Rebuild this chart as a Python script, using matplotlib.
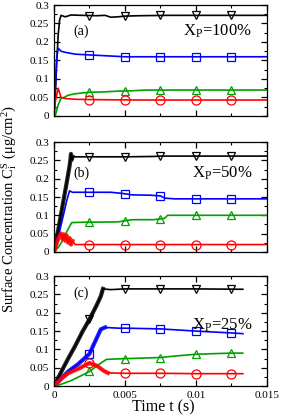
import matplotlib
matplotlib.use('Agg')
import matplotlib.pyplot as plt
import numpy as np
from matplotlib.ticker import MultipleLocator

plt.rcParams['font.family'] = ['Liberation Serif', 'DejaVu Serif']
plt.rcParams['mathtext.fontset'] = 'custom'
plt.rcParams['mathtext.rm'] = 'Liberation Serif'
plt.rcParams['mathtext.it'] = 'Liberation Serif'

# marker times (s)
mark_t = [0.0025, 0.005, 0.0075, 0.01, 0.0125]

# ---- panel (a): X_P = 100%
a_black_t = [0, 0.0001, 0.0002, 0.0003, 0.0004, 0.0005, 0.0008, 0.0012, 0.002, 0.003, 0.0036, 0.004, 0.0045, 0.005, 0.006, 0.008, 0.015]
a_black_y = [0, 0.06, 0.15, 0.22, 0.26, 0.272, 0.268, 0.273, 0.272, 0.271, 0.272, 0.267, 0.268, 0.27, 0.271, 0.272, 0.272]
a_blue_t = [0, 0.0001, 0.0002, 0.0003, 0.0005, 0.0008, 0.0015, 0.0025, 0.004, 0.005, 0.015]
a_blue_y = [0, 0.08, 0.16, 0.183, 0.175, 0.172, 0.167, 0.165, 0.162, 0.16, 0.16]
a_green_t = [0, 0.0001, 0.0003, 0.0005, 0.0007, 0.001, 0.0015, 0.0025, 0.0035, 0.0045, 0.0055, 0.0065, 0.015]
a_green_y = [0, 0.002, 0.03, 0.048, 0.05, 0.056, 0.06, 0.064, 0.065, 0.067, 0.068, 0.07, 0.07]
a_red_t = [0, 0.0001, 0.0003, 0.0005, 0.0008, 0.0015, 0.003, 0.006, 0.015]
a_red_y = [0, 0.04, 0.075, 0.05, 0.047, 0.045, 0.044, 0.043, 0.043]

# ---- panel (b): X_P = 50%
b_black_t = [0, 0.0003, 0.0006, 0.0009, 0.0011, 0.00115, 0.0012, 0.00125, 0.0013, 0.003, 0.005, 0.007, 0.0075, 0.015]
b_black_y = [0, 0.06, 0.125, 0.19, 0.235, 0.25, 0.268, 0.252, 0.26, 0.26, 0.26, 0.261, 0.262, 0.262]
b_blue_t = [0, 0.0003, 0.0006, 0.0009, 0.0011, 0.0013, 0.004, 0.0048, 0.0055, 0.0068, 0.0075, 0.0078, 0.0085, 0.015]
b_blue_y = [0, 0.04, 0.09, 0.14, 0.167, 0.163, 0.163, 0.16, 0.156, 0.155, 0.153, 0.147, 0.145, 0.145]
b_green_t = [0, 0.0003, 0.0006, 0.0009, 0.00125, 0.002, 0.0045, 0.005, 0.0055, 0.007, 0.0075, 0.0078, 0.008, 0.015]
b_green_y = [0, 0.012, 0.03, 0.055, 0.08, 0.081, 0.082, 0.085, 0.088, 0.088, 0.09, 0.092, 0.1, 0.1]
b_red_t = [0, 0.0002, 0.0004, 0.0005, 0.0006, 0.0007, 0.0008, 0.0009, 0.001, 0.0011, 0.0012, 0.0013, 0.0015, 0.003, 0.015]
b_red_y = [0, 0.025, 0.045, 0.05, 0.035, 0.048, 0.03, 0.045, 0.025, 0.038, 0.02, 0.03, 0.02, 0.02, 0.02]

# ---- panel (c): X_P = 25%
c_black_t = [0, 0.0005, 0.001, 0.0015, 0.002, 0.0025, 0.003, 0.0033, 0.00345, 0.004, 0.005, 0.0075, 0.01, 0.0133]
c_black_y = [0, 0.038, 0.075, 0.11, 0.148, 0.182, 0.22, 0.245, 0.265, 0.263, 0.265, 0.265, 0.265, 0.264]
c_blue_t = [0, 0.0005, 0.001, 0.0017, 0.0025, 0.003, 0.0033, 0.0036, 0.0045, 0.005, 0.0075, 0.01, 0.0125, 0.0133]
c_blue_y = [0, 0.02, 0.04, 0.06, 0.088, 0.13, 0.155, 0.16, 0.158, 0.158, 0.156, 0.15, 0.145, 0.143]
c_green_t = [0, 0.0005, 0.0012, 0.002, 0.0025, 0.0032, 0.0037, 0.005, 0.0075, 0.0085, 0.01, 0.0125, 0.0133]
c_green_y = [0, 0.005, 0.015, 0.03, 0.04, 0.06, 0.073, 0.075, 0.078, 0.082, 0.087, 0.09, 0.09]
c_red_t = [0, 0.0005, 0.001, 0.0017, 0.0025, 0.003, 0.0035, 0.0038, 0.005, 0.0075, 0.01, 0.0133]
c_red_y = [0, 0.02, 0.035, 0.047, 0.063, 0.056, 0.042, 0.036, 0.035, 0.035, 0.034, 0.034]

panels = [
    ('(a)', '100%', [(a_black_t, a_black_y), (a_blue_t, a_blue_y), (a_green_t, a_green_y), (a_red_t, a_red_y)]),
    ('(b)', '50%', [(b_black_t, b_black_y), (b_blue_t, b_blue_y), (b_green_t, b_green_y), (b_red_t, b_red_y)]),
    ('(c)', '25%', [(c_black_t, c_black_y), (c_blue_t, c_blue_y), (c_green_t, c_green_y), (c_red_t, c_red_y)]),
]
# end time of the noisy (thick) part of each curve, per panel
noisy_end = [[0, 0, 0, 0],
             [0.0013, 0, 0, 0.0013],
             [0.0035, 0.0036, 0, 0.0038]]
colors = ['black', '#0000ff', '#00a000', '#ff0000']
markers = ['v', 's', '^', 'o']
msizes = [6, 5.5, 6, 6.5]

# axes boxes [left, bottom, width, height] in figure fraction
boxes = [[0.192, 0.722, 0.758, 0.266],
         [0.192, 0.396, 0.758, 0.263],
         [0.192, 0.074, 0.758, 0.264]]
tag_y = [0.76, 0.72, 0.845]
xp_y = [0.76, 0.72, 0.555]

fig = plt.figure(figsize=(2.81, 4.17), dpi=100)
for i, (tag, xp, series) in enumerate(panels):
    ax = fig.add_axes(boxes[i])
    for j, ((t, y), c, m, ms) in enumerate(zip(series, colors, markers, msizes)):
        ax.plot(t, y, color=c, lw=1.2)
        tn = noisy_end[i][j]
        if tn > 0:
            t_arr = np.array(t)
            keep = t_arr <= tn
            ax.plot(t_arr[keep], np.array(y)[keep], color=c, lw=3.0, alpha=0.85)
        ax.plot(mark_t, np.interp(mark_t, t, y), ls='none', marker=m, ms=ms,
                mfc='none', mec=c, mew=0.9)
    ax.set_xlim(0, 0.015)
    ax.set_ylim(0, 0.3)
    ax.xaxis.set_major_locator(MultipleLocator(0.005))
    ax.xaxis.set_minor_locator(MultipleLocator(0.0025))
    ax.yaxis.set_major_locator(MultipleLocator(0.05))
    ax.yaxis.set_minor_locator(MultipleLocator(0.025))
    ax.tick_params(which='both', direction='in', top=True, right=True, labelsize=8)
    ax.tick_params(which='major', length=4, width=0.9)
    ax.tick_params(which='minor', length=2.5, width=0.8)
    ax.set_yticks([0, 0.05, 0.1, 0.15, 0.2, 0.25, 0.3])
    ax.set_yticklabels(['0', '0.05', '0.1', '0.15', '0.2', '0.25', '0.3'])
    if i < 2:
        ax.tick_params(labelbottom=False)
    else:
        ax.set_xticks([0, 0.005, 0.01, 0.015])
        ax.set_xticklabels(['0', '0.005', '0.01', '0.015'])
    for s in ax.spines.values():
        s.set_linewidth(0.9)
    ax.text(0.09, tag_y[i], tag, transform=ax.transAxes, fontsize=10, va='center')
    ax.text(0.93, xp_y[i], r'X$_\mathrm{P}$=' + xp, transform=ax.transAxes,
            fontsize=12, va='center', ha='right')

fig.text(0.58, 0.022, 'Time t (s)', ha='center', va='center', fontsize=11.5)
fig.text(0.035, 0.5, r'Surface Concentration C$_\mathrm{i}^\mathrm{S}$ ($\mathrm{\mu}$g/cm$^2$)',
         rotation=90, ha='center', va='center', fontsize=10.5)

fig.savefig('out.png', dpi=100)
